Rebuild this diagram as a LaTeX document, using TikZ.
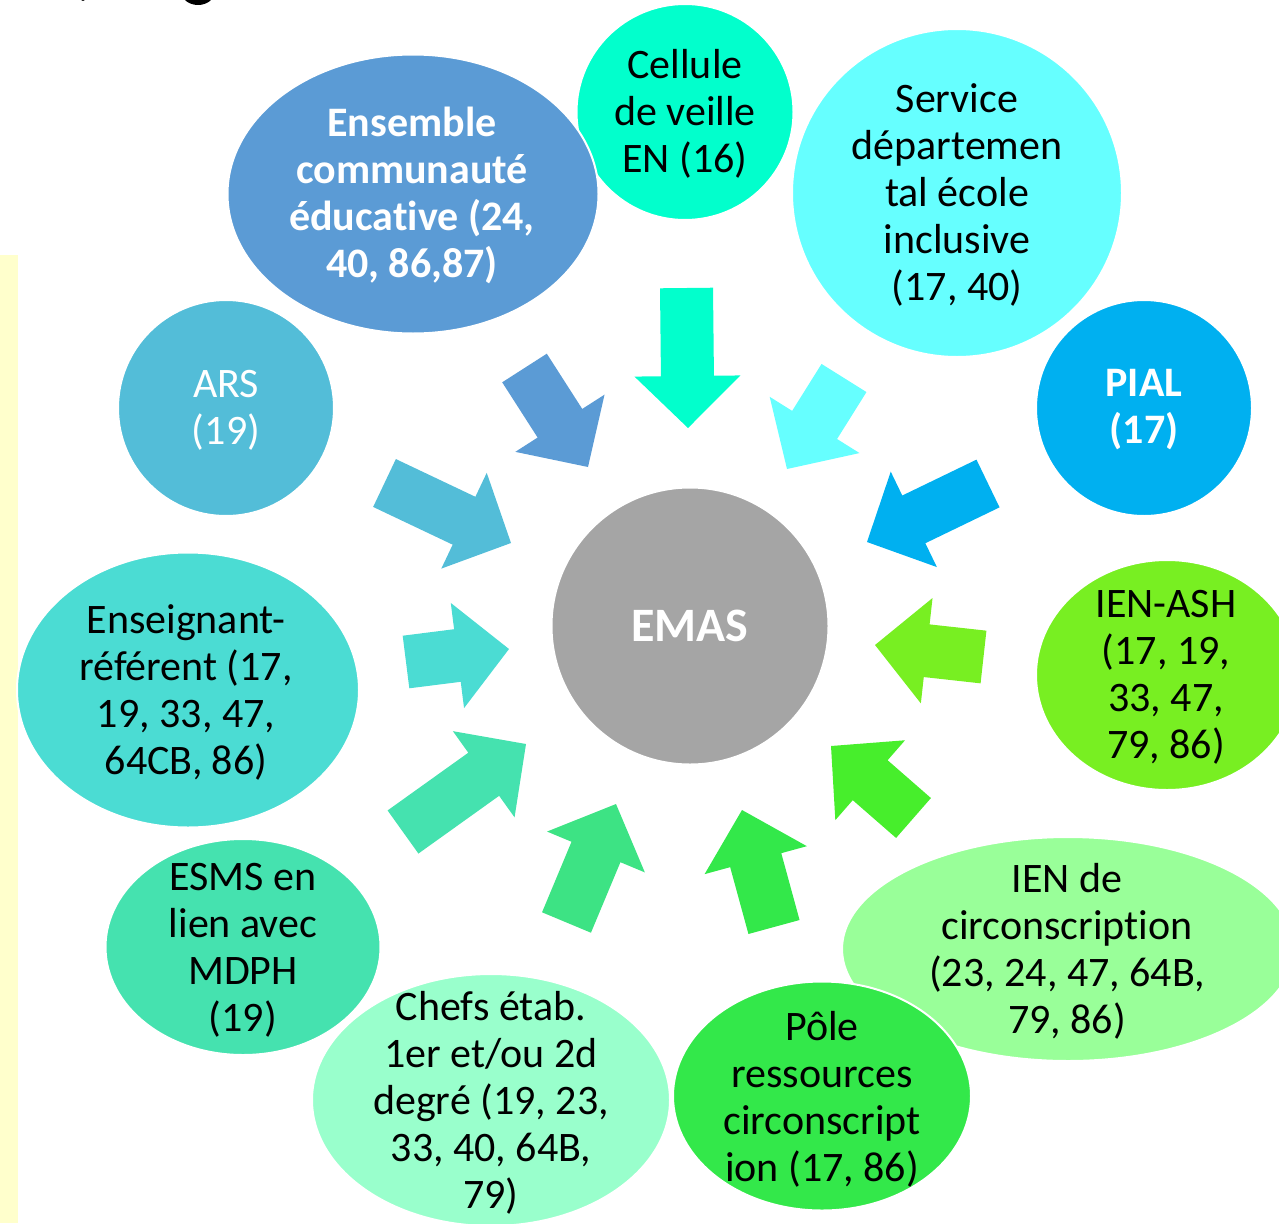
\documentclass[tikz,border=0pt]{standalone}
\usepackage{fontspec}
\setmainfont{Carlito}[RawFeature={-liga;-clig;-dlig;-calt}]
\usetikzlibrary{shapes.geometric,calc}
\definecolor{cEns}{HTML}{5B9BD5}
\definecolor{cCel}{HTML}{02FFCC}
\definecolor{cSer}{HTML}{66FFFF}
\definecolor{cPia}{HTML}{00B0F0}
\definecolor{cAsh}{HTML}{78EF22}
\definecolor{cCir}{HTML}{99FF99}
\definecolor{cCirA}{HTML}{47EE2C}
\definecolor{cPol}{HTML}{33E84A}
\definecolor{cChe}{HTML}{99FFCC}
\definecolor{cCheA}{HTML}{3DE384}
\definecolor{cEsm}{HTML}{45E2AF}
\definecolor{cEnsg}{HTML}{4BDCD3}
\definecolor{cArs}{HTML}{53BDD8}
\definecolor{cEma}{HTML}{A5A5A5}
\definecolor{cYel}{HTML}{FFFFCC}
\newcommand\flowarrow[3]{%
  \fill[#1] ($(#2)!26.5pt!90:(#3)$)
    -- ($($(#3)!52pt!(#2)$)!26.5pt!-90:(#2)$)
    -- ($($(#3)!52pt!(#2)$)!53pt!-90:(#2)$)
    -- (#3)
    -- ($($(#3)!52pt!(#2)$)!53pt!90:(#2)$)
    -- ($($(#3)!52pt!(#2)$)!26.5pt!90:(#2)$)
    -- ($(#2)!26.5pt!-90:(#3)$) -- cycle;}
\tikzset{
  bubble/.style={ellipse, draw=white, line width=2pt, inner sep=0pt},
  txt/.style={align=center, font=\fontsize{42}{47}\selectfont, inner sep=0pt},
  wtxt/.style={txt, text=white},
  btxt/.style={txt, text=white, font=\fontsize{42}{47}\selectfont\bfseries},
}
\begin{document}
\begin{tikzpicture}[x=1pt,y=-1pt]
\useasboundingbox (0,0) rectangle (1279,1223);
\clip (0,0) rectangle (1279,1223);
% background strip and cut heading
\fill[cYel] (0,255) rectangle (18,1223);
\fill[black] (198,-9) ellipse [x radius=17, y radius=14];
\fill[black] (83,-4) ellipse [x radius=4, y radius=5];
% center
\node[bubble, fill=cEma, minimum width=277pt, minimum height=277pt] (emas) at (690,626) {};
\node[btxt, font=\fontsize{48}{52}\selectfont\bfseries] (emas-t) at (690,626) {EMAS};
% outer nodes (SmartArt order)
\node[bubble, fill=cCel, minimum width=217pt, minimum height=216pt] (cel) at (685,112) {};
\node[txt] (cel-t) at (685,114) {Cellule\\de veille\\EN (16)};
\node[bubble, fill=cSer, minimum width=330pt, minimum height=328pt] (ser) at (957,193) {};
\node[txt] (ser-t) at (957,195) {Service\\départemen\\tal école\\inclusive\\(17, 40)};
\node[bubble, fill=cPia, minimum width=216pt, minimum height=216pt] (pia) at (1144,408) {};
\node[btxt] (pia-t) at (1144,410) {PIAL\\(17)};
\node[bubble, fill=cAsh, minimum width=262pt, minimum height=230pt] (ash) at (1167,675) {};
\node[txt] (ash-t) at (1166,677) {IEN-ASH\\(17, 19,\\33, 47,\\79, 86)};
\node[bubble, fill=cCir, minimum width=452pt, minimum height=224pt] (cir) at (1068,949) {};
\node[txt] (cir-t) at (1067,951) {IEN de\\circonscription\\(23, 24, 47, 64B,\\79, 86)};
\node[bubble, fill=cPol, minimum width=298pt, minimum height=229pt] (pol) at (822,1096) {};
\node[txt] (pol-t) at (822,1099) {Pôle\\ressources\\circonscript\\ion (17, 86)};
\node[bubble, fill=cChe, minimum width=358pt, minimum height=252pt] (che) at (491,1100) {};
\node[txt] (che-t) at (491,1103) {Chefs étab.\\1er et/ou 2d\\degré (19, 23,\\33, 40, 64B,\\79)};
\node[bubble, fill=cEsm, minimum width=275pt, minimum height=216pt] (esm) at (243,947) {};
\node[txt] (esm-t) at (243,950) {ESMS en\\lien avec\\MDPH\\(19)};
\node[bubble, fill=cEnsg, minimum width=342pt, minimum height=275pt] (ens) at (188,690) {};
\node[txt] (ens-t) at (186,692) {Enseignant-\\référent (17,\\19, 33, 47,\\64CB, 86)};
\node[bubble, fill=cArs, minimum width=216pt, minimum height=216pt] (ars) at (226,408) {};
\node[wtxt] (ars-t) at (226,410) {ARS\\(19)};
\node[bubble, fill=cEns, minimum width=371pt, minimum height=279pt] (edu) at (413,194) {};
\node[btxt] (edu-t) at (412,195) {Ensemble\\communauté\\éducative (24,\\40, 86,87)};
% arrows: back point, tip point
\coordinate (a1b) at (686.5,288);  \coordinate (a1t) at (688,428);
\coordinate (a2b) at (524.5,368);  \coordinate (a2t) at (588,467);
\coordinate (a3b) at (844,378);    \coordinate (a3t) at (787,469);
\coordinate (a4b) at (988,483.5);  \coordinate (a4t) at (867,542);
\coordinate (a5b) at (983.5,657);  \coordinate (a5t) at (875,645);
\coordinate (a6b) at (913.5,818);  \coordinate (a6t) at (831,746);
\coordinate (a7b) at (774,927);    \coordinate (a7t) at (742,810);
\coordinate (a8b) at (566.5,922.5);\coordinate (a8t) at (616,804);
\coordinate (a9b) at (403,832);    \coordinate (a9t) at (526,744);
\coordinate (a10b) at (406,662);   \coordinate (a10t) at (509,649);
\coordinate (a11b) at (384.5,483); \coordinate (a11t) at (511,543);
\flowarrow{cCel}{a1b}{a1t}
\flowarrow{cEns}{a2b}{a2t}
\flowarrow{cSer}{a3b}{a3t}
\flowarrow{cPia}{a4b}{a4t}
\flowarrow{cAsh}{a5b}{a5t}
\flowarrow{cCirA}{a6b}{a6t}
\flowarrow{cPol}{a7b}{a7t}
\flowarrow{cCheA}{a8b}{a8t}
\flowarrow{cEsm}{a9b}{a9t}
\flowarrow{cEnsg}{a10b}{a10t}
\flowarrow{cArs}{a11b}{a11t}
\end{tikzpicture}
\end{document}
